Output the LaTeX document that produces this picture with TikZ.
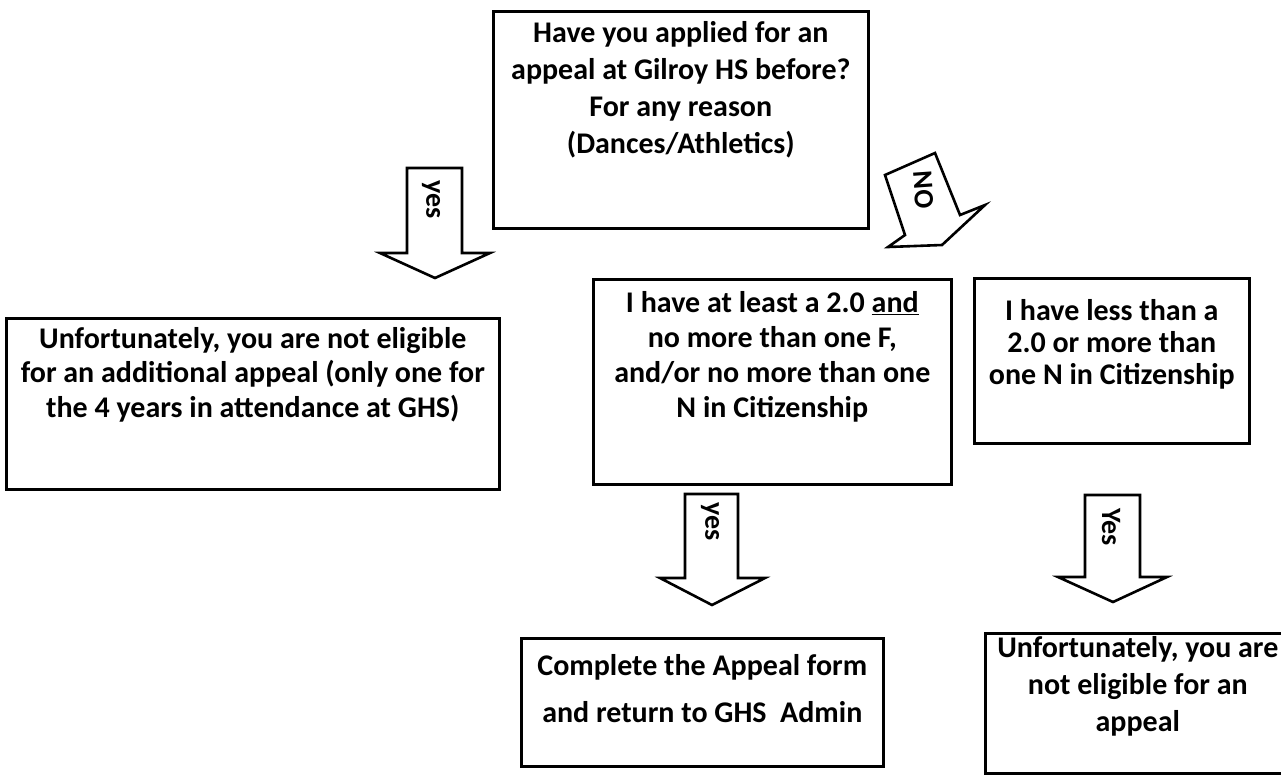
\documentclass[tikz,border=0pt]{standalone}
\usepackage{fontspec}
\setmainfont{Carlito}
\newcommand\boxtxt[5]{\parbox[c][#2][t]{#1}{\centering\fontsize{30}{#4}\selectfont\rule{0pt}{#3}#5}}
\begin{document}
\begin{tikzpicture}[x=1pt,y=-1pt,
  box/.style={draw, line width=2.6pt, inner sep=0pt, anchor=north west, font=\bfseries},
  blk/.style={draw, line width=2.6pt, line join=miter, fill=white},
  lbl/.style={font=\bfseries\fontsize{28}{28}\selectfont, inner sep=0pt}]
\useasboundingbox (0,0) rectangle (1281,780);
\clip (0,0) rectangle (1281,780);
% boxes
\node[box] (q) at (492,10) {\boxtxt{375pt}{217pt}{31pt}{37pt}{Have you applied for an\\appeal at Gilroy HS before?\\For any reason\\(Dances/Athletics)}};
\node[box] (l) at (5,317) {\boxtxt{493pt}{171pt}{30pt}{34.5pt}{Unfortunately, you are not eligible\\for an additional appeal (only one for\\the 4 years in attendance at GHS)}};
\node[box] (m) at (592,278) {\boxtxt{358pt}{205pt}{33pt}{35pt}{I have at least a 2.0 \underline{and}\\no more than one F,\\and/or no more than one\\N in Citizenship}};
\node[box] (r) at (973,277) {\boxtxt{275pt}{165pt}{42pt}{32pt}{I have less than a\\2.0 or more than\\one N in Citizenship}};
\node[box] (c) at (520,637) {\boxtxt{362pt}{128pt}{37pt}{47pt}{Complete the Appeal form\\and return to GHS\ \ Admin}};
\node[box] (u) at (984,632) {\boxtxt{305pt}{140pt}{24pt}{37pt}{Unfortunately, you are\\not eligible for an\\appeal}};
% block arrows
\draw[blk] (407,168) -- (462,168) -- (462,253) -- (490,253) -- (435,278) -- (380,253) -- (407,253) -- cycle;
\node[lbl, rotate=-90] (ya) at (431,200) {yes};
\draw[blk] (885,175) -- (935,153) -- (960,215) -- (985,205) -- (942,245) -- (888,247) -- (905,235) -- cycle;
\node[lbl, rotate=-86] (no) at (924,190) {NO};
\draw[blk] (685,494) -- (738,494) -- (738,578) -- (765,578) -- (712,605) -- (660,578) -- (685,578) -- cycle;
\node[lbl, rotate=-90] (yb) at (710,522) {yes};
\draw[blk] (1085,495) -- (1140,495) -- (1140,577) -- (1167,577) -- (1113,602) -- (1058,577) -- (1085,577) -- cycle;
\node[lbl, rotate=-90] (yc) at (1111,527) {Yes};
\end{tikzpicture}
\end{document}
